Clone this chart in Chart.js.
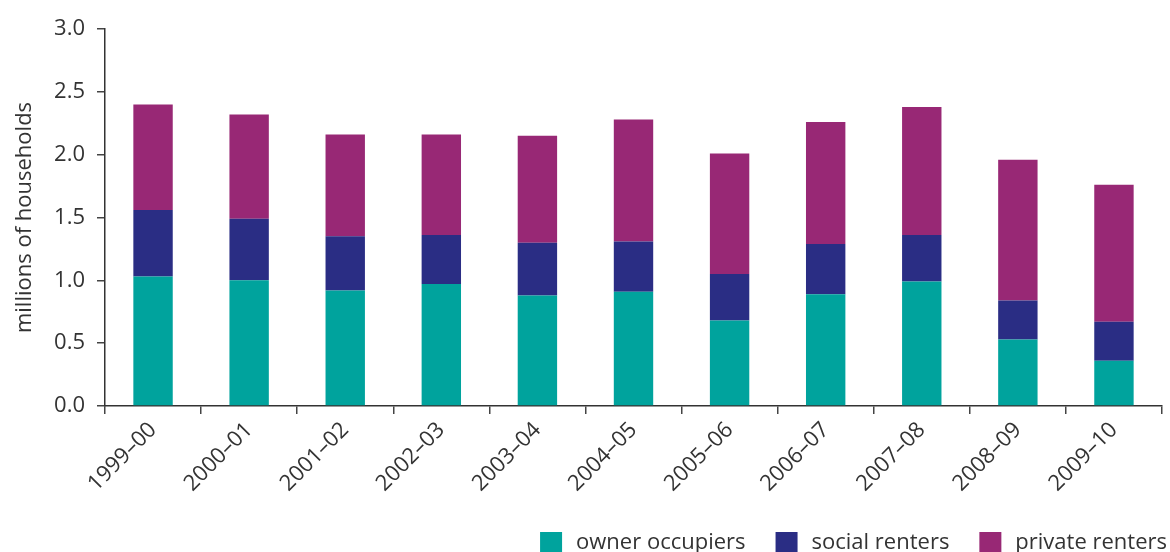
<!DOCTYPE html>
<html>
<head>
<meta charset="utf-8">
<script src="https://cdn.jsdelivr.net/npm/chart.js@4"></script>
<style>
html,body{margin:0;padding:0;background:#fff;}
#wrap{width:1170px;height:552px;position:relative;}
</style>
</head>
<body>
<div id="wrap"><canvas id="c" width="1170" height="552"></canvas></div>
<script>
const categories = ['1999–00','2000–01','2001–02','2002–03','2003–04','2004–05','2005–06','2006–07','2007–08','2008–09','2009–10'];
const ownerOccupiers = [1.03,1.00,0.92,0.97,0.88,0.91,0.68,0.89,0.99,0.53,0.36];
const socialRenters  = [0.53,0.49,0.43,0.39,0.42,0.40,0.37,0.40,0.37,0.31,0.31];
const privateRenters = [0.84,0.83,0.81,0.80,0.85,0.97,0.96,0.97,1.02,1.12,1.09];
const seriesLabels = ['owner occupiers','social renters','private renters'];
const yTicks = [0,0.5,1.0,1.5,2.0,2.5,3.0];
const yTitle = 'millions of households';

const FONT = "'Open Sans', 'Noto Sans', sans-serif";
const TXT = '#333333';
const colors = ['#00A39D','#2A2D84','#982875'];

const legendPlugin = {
  id: 'customLegend',
  afterDraw(chart) {
    const ctx = chart.ctx;
    ctx.save();
    ctx.font = '22px ' + FONT;
    ctx.textBaseline = 'alphabetic';
    ctx.fillStyle = TXT;
    const box = 22, gapText = 14, gapItem = 30;
    const items = chart.data.datasets.map(d => ({label: d.label, color: d.backgroundColor, w: ctx.measureText(d.label).width}));
    let total = 0;
    items.forEach((it, i) => { total += box + gapText + it.w + (i < items.length - 1 ? gapItem : 0); });
    let x = 1167 - total;
    const yTop = 532;
    items.forEach(it => {
      ctx.fillStyle = it.color;
      ctx.fillRect(x, yTop, box, box);
      x += box + gapText;
      ctx.fillStyle = TXT;
      ctx.fillText(it.label, x, 549);
      x += it.w + gapItem;
    });
    ctx.restore();
  }
};

new Chart(document.getElementById('c'), {
  type: 'bar',
  data: {
    labels: categories,
    datasets: [
      {label: seriesLabels[0], data: ownerOccupiers, backgroundColor: colors[0]},
      {label: seriesLabels[1], data: socialRenters, backgroundColor: colors[1]},
      {label: seriesLabels[2], data: privateRenters, backgroundColor: colors[2]}
    ]
  },
  options: {
    responsive: false,
    animation: false,
    devicePixelRatio: 1,
    layout: {padding: {top: 29, right: 8, bottom: 40, left: 0}},
    datasets: {bar: {barPercentage: 0.41, categoryPercentage: 1.0, borderWidth: 0}},
    plugins: {legend: {display: false}, tooltip: {enabled: false}},
    scales: {
      x: {
        stacked: true,
        grid: {display: true, drawOnChartArea: false, drawTicks: true, tickLength: 8, color: '#444', lineWidth: 1.5, offset: true},
        border: {display: true, color: '#333', width: 1.5},
        ticks: {color: TXT, font: {family: FONT, size: 22}, maxRotation: 45, minRotation: 45, padding: 3, autoSkip: false},
        afterFit(scale) { scale.height = 106; scale.paddingLeft = 0; scale.paddingRight = 0; }
      },
      y: {
        stacked: true,
        min: 0, max: 3,
        afterBuildTicks(scale) { scale.ticks = yTicks.map(v => ({value: v})); },
        grid: {display: true, drawOnChartArea: false, drawTicks: true, tickLength: 8, color: '#444', lineWidth: 1.5},
        border: {display: true, color: '#333', width: 1.5},
        ticks: {color: TXT, font: {family: FONT, size: 22}, padding: 12, callback: v => Number(v).toFixed(1)},
        title: {display: true, text: yTitle, color: TXT, font: {family: FONT, size: 22}, padding: {top: 12, bottom: 0}},
        afterFit(scale) { scale.width = 105; scale.paddingTop = 0; scale.paddingBottom = 0; }
      }
    }
  },
  plugins: [legendPlugin]
});
</script>
</body>
</html>
